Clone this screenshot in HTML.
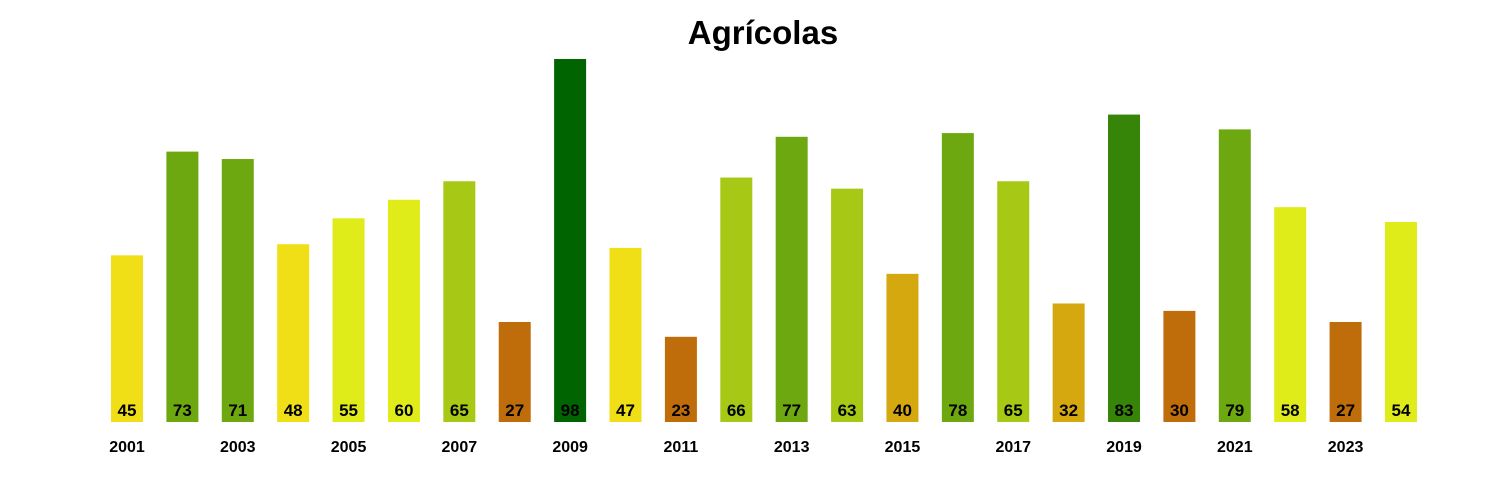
<!DOCTYPE html>
<html><head><meta charset="utf-8"><style>
html,body{margin:0;padding:0;background:#fff;}
svg{display:block;font-family:"Liberation Sans",Arial,sans-serif;}
</style></head><body>
<svg id="chart" width="1500" height="500">
<text x="763" y="44" text-anchor="middle" font-size="33" font-weight="bold" fill="#000">Agrícolas</text>
<g id="bars"></g>
<g id="xlabels"></g>
</svg>
<script>
const years = [2001,2002,2003,2004,2005,2006,2007,2008,2009,2010,2011,2012,2013,2014,2015,2016,2017,2018,2019,2020,2021,2022,2023,2024];
const values = [45,73,71,48,55,60,65,27,98,47,23,66,77,63,40,78,65,32,83,30,79,58,27,54];
const tickYears = [2001,2003,2005,2007,2009,2011,2013,2015,2017,2019,2021,2023];

const NS = "http://www.w3.org/2000/svg";
const x0 = 127, step = 55.39, barW = 32, baseY = 422, pxPerUnit = 3.704;
function xScale(i){ return x0 + i*step; }
function yScale(v){ return baseY - v*pxPerUnit; }
function colorFor(v){
  if (v >= 90) return "#006400";
  if (v >= 80) return "#378508";
  if (v >= 70) return "#6EA811";
  if (v >= 62) return "#A8C816";
  if (v >= 50) return "#E0EC1A";
  if (v >= 42) return "#F0DF17";
  if (v >= 31) return "#D6A80F";
  return "#BF6C0A";
}
const gb = document.getElementById("bars");
values.forEach((v,i)=>{
  const r = document.createElementNS(NS,"rect");
  r.setAttribute("x", xScale(i)-barW/2);
  r.setAttribute("y", yScale(v));
  r.setAttribute("width", barW);
  r.setAttribute("height", baseY - yScale(v));
  r.setAttribute("fill", colorFor(v));
  
  
  gb.appendChild(r);
  const t = document.createElementNS(NS,"text");
  t.setAttribute("x", xScale(i));
  t.setAttribute("y", 416);
  t.setAttribute("text-anchor","middle");
  t.setAttribute("font-size","17");
  t.setAttribute("font-weight","bold");
  t.textContent = v;
  
  
  gb.appendChild(t);
});
const gx = document.getElementById("xlabels");
tickYears.forEach(y=>{
  const i = years.indexOf(y);
  const t = document.createElementNS(NS,"text");
  t.setAttribute("x", xScale(i));
  t.setAttribute("y", 452);
  t.setAttribute("text-anchor","middle");
  t.setAttribute("font-size","16");
  t.setAttribute("font-weight","bold");
  t.textContent = y;
  
  
  gx.appendChild(t);
});
</script>
</body></html>
